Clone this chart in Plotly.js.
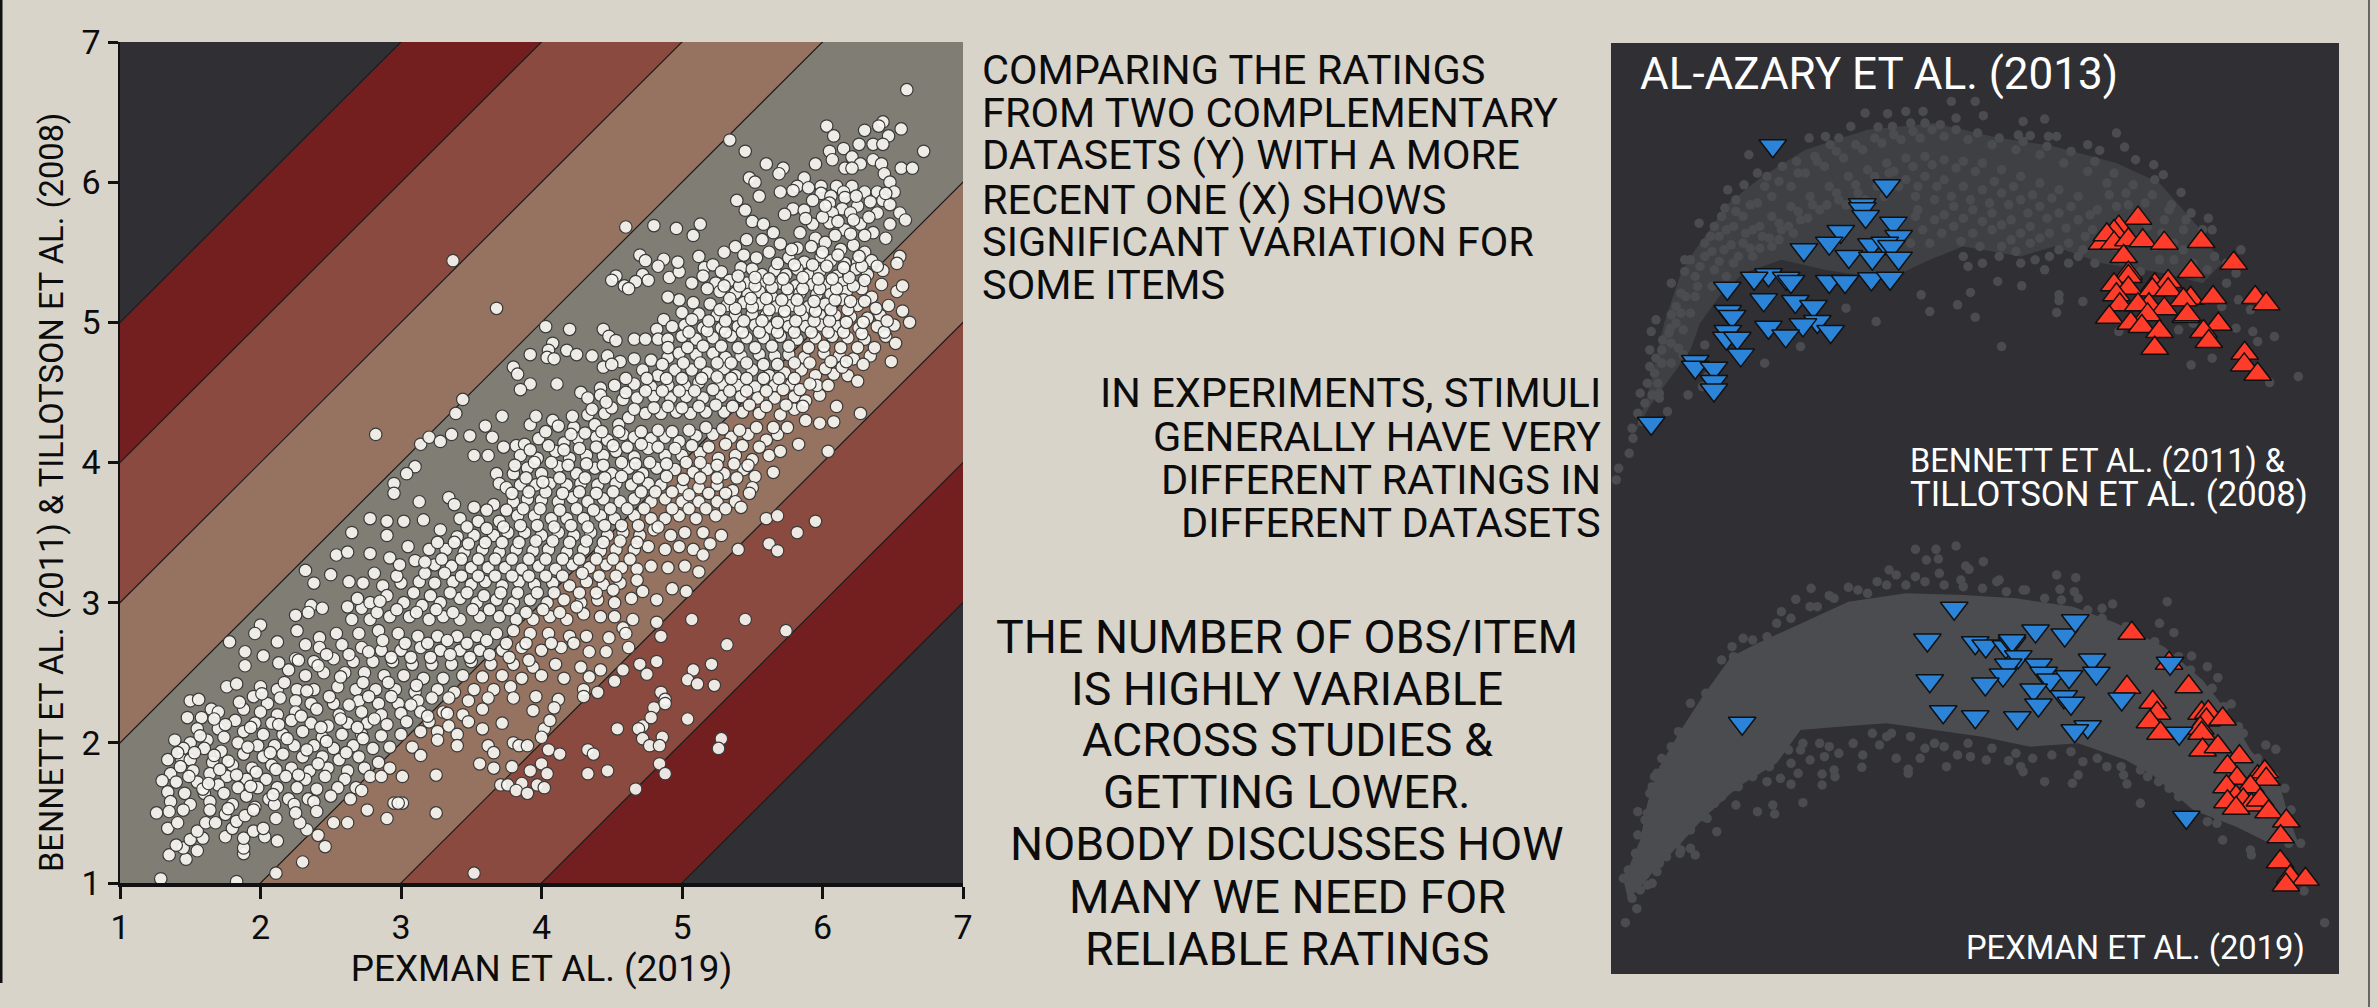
<!DOCTYPE html>
<html>
<head>
<meta charset="utf-8">
<script src="https://cdn.plot.ly/plotly-3.0.1.min.js"></script>
<style>html,body{margin:0;padding:0;background:#D9D4C9;overflow:hidden}</style>
</head>
<body>
<div id="chart" style="width:2378px;height:1007px"></div>
<script>
// x,y pairs: Pexman rating, Bennett/Tillotson rating
const ratingPairs = [
6.60,6.66,5.34,6.30,3.37,5.44,3.68,5.10,4.60,5.68,4.80,5.69,4.96,5.67,5.13,5.70,5.08,5.62,5.45,6.22,5.60,6.13,5.72,6.10,5.69,6.06,5.48,6.03,5.52,6.00,5.55,5.90,5.39,5.87,5.45,5.80,5.50,5.72,5.58,5.70,5.65,5.64,
6.03,6.40,6.08,6.33,6.30,6.37,6.43,6.43,6.40,6.40,6.56,6.38,6.72,6.22,6.47,6.33,6.36,6.27,6.26,6.27,6.43,6.27,6.15,6.24,6.05,6.22,6.07,6.16,6.21,6.18,6.36,6.16,5.95,6.13,6.42,6.13,6.27,6.13,6.16,6.10,6.21,6.10,6.56,6.10,6.64,6.10,6.44,6.06,
6.48,6.00,5.87,6.03,5.82,5.97,5.90,5.96,5.99,5.97,6.10,5.97,6.21,5.97,5.70,5.93,5.79,5.94,5.99,5.92,6.06,5.90,6.15,5.93,6.30,5.93,6.39,5.93,6.51,5.93,5.93,5.87,6.05,5.85,6.16,5.89,6.34,5.86,6.43,5.87,5.79,5.81,5.87,5.80,5.73,5.77,6.14,5.81,6.25,5.83,6.48,5.84,6.39,5.78,6.55,5.78,6.59,5.73,6.48,5.70,6.07,5.78,6.20,5.78,6.05,5.71,5.93,5.70,6.16,5.66,6.27,5.70,6.36,5.64,6.45,5.60,5.84,5.64,5.95,5.60,5.57,5.59,5.46,5.59,5.70,5.56,5.82,5.53,
6.02,5.57,6.13,5.52,6.22,5.55,6.30,5.50,5.38,5.54,5.30,5.50,5.44,5.48,5.53,5.46,5.62,5.50,5.76,5.46,5.87,5.43,5.99,5.47,6.06,5.44,6.16,5.42,6.25,5.43,6.35,5.44,6.55,5.47,6.53,5.42,6.43,5.37,6.32,5.34,6.24,5.38,
5.12,5.47,5.16,5.39,5.22,5.41,5.28,5.36,5.42,5.39,5.50,5.38,5.57,5.34,5.66,5.37,5.74,5.34,5.82,5.38,5.90,5.34,5.98,5.36,6.10,5.33,6.14,5.28,6.04,5.27,5.93,5.27,5.81,5.26,5.70,5.28,5.58,5.27,5.46,5.28,5.34,5.30,5.24,5.28,5.15,5.33,
4.53,5.33,4.72,5.34,4.91,5.32,4.98,5.36,4.97,5.43,4.87,5.45,4.70,5.48,4.74,5.44,4.83,5.40,4.67,5.29,4.76,5.30,4.59,5.26,4.50,5.30,4.62,5.24,5.07,5.28,5.18,5.24,5.27,5.22,5.38,5.21,5.47,5.20,5.55,5.22,5.64,5.18,5.75,5.19,5.84,5.21,5.96,5.20,6.06,5.20,6.17,5.22,6.28,5.24,6.42,5.27,6.53,5.22,6.57,5.26,
6.35,5.18,6.25,5.12,6.15,5.16,6.02,5.13,5.90,5.11,5.78,5.12,5.67,5.11,5.55,5.13,5.44,5.14,5.32,5.12,5.20,5.13,5.08,5.14,4.98,5.16,4.90,5.18,6.47,5.12,6.57,5.08,6.41,5.05,6.32,5.03,6.20,5.04,6.09,5.05,5.98,5.05,5.86,5.04,5.73,5.04,5.60,5.05,5.50,5.06,5.38,5.05,5.25,5.05,5.12,5.06,5.00,5.07,
4.87,5.02,4.82,4.95,4.93,4.97,5.02,4.98,5.15,4.96,5.28,4.96,5.40,4.97,5.52,4.98,5.63,4.96,5.76,4.97,5.88,4.97,5.99,4.98,6.11,4.97,6.26,4.96,6.39,4.97,6.51,4.98,6.62,5.00,
4.03,4.97,4.20,4.95,4.44,4.95,4.48,4.90,4.53,4.87,4.66,4.88,4.74,4.88,4.83,4.88,4.90,4.88,5.00,4.90,5.10,4.88,5.22,4.89,5.35,4.90,5.46,4.89,5.58,4.89,5.70,4.90,5.82,4.88,5.95,4.89,6.07,4.90,6.18,4.89,6.30,4.88,6.45,4.90,6.52,4.85,
4.08,4.85,4.05,4.80,4.18,4.80,4.25,4.77,3.92,4.77,4.04,4.75,4.09,4.74,4.36,4.76,4.47,4.76,4.56,4.72,4.66,4.74,4.78,4.73,4.90,4.75,4.98,4.78,5.10,4.77,5.22,4.78,5.31,4.75,5.42,4.76,5.55,4.77,5.66,4.76,5.76,4.77,5.87,4.75,6.01,4.78,6.12,4.76,6.22,4.74,6.34,4.76,6.49,4.72,
3.80,4.68,3.83,4.63,4.44,4.68,4.50,4.70,4.72,4.66,4.83,4.62,4.95,4.66,5.07,4.66,5.18,4.64,5.30,4.67,5.38,4.62,5.50,4.66,5.62,4.62,5.73,4.64,5.85,4.66,5.95,4.62,6.08,4.63,6.18,4.62,6.25,4.58,5.78,4.56,5.66,4.55,5.52,4.54,5.40,4.55,5.28,4.56,5.12,4.57,5.02,4.55,4.90,4.55,4.78,4.54,4.66,4.56,4.52,4.55,4.42,4.53,
3.92,4.56,4.11,4.56,3.85,4.52,4.28,4.50,4.33,4.46,4.42,4.48,4.58,4.45,4.68,4.46,4.80,4.47,4.92,4.46,5.03,4.47,5.15,4.46,5.28,4.47,5.42,4.47,5.54,4.46,5.66,4.46,5.80,4.47,5.88,4.44,5.98,4.48,6.10,4.40,6.27,4.35,
3.44,4.45,3.39,4.35,3.72,4.33,3.60,4.26,3.92,4.27,3.96,4.33,4.08,4.30,4.12,4.26,4.23,4.25,4.33,4.34,4.38,4.27,4.45,4.35,4.55,4.27,4.62,4.32,4.74,4.35,4.85,4.35,4.96,4.36,5.06,4.35,5.17,4.36,5.30,4.36,5.43,4.36,5.55,4.35,5.70,4.34,5.80,4.38,5.88,4.30,5.98,4.28,6.08,4.29,
3.36,4.20,3.49,4.19,3.65,4.18,3.82,4.12,3.88,4.13,3.98,4.17,4.16,4.14,4.26,4.17,4.39,4.18,4.47,4.16,4.58,4.20,4.66,4.18,4.78,4.17,4.88,4.18,4.98,4.15,5.10,4.19,5.22,4.20,5.35,4.18,5.47,4.20,5.60,4.16,5.68,4.20,5.83,4.13,6.04,4.08,
2.82,4.20,3.14,4.13,3.20,4.18,3.28,4.15,3.52,4.05,3.62,4.05,3.73,4.11,3.85,4.05,3.97,4.03,4.10,4.08,4.20,4.03,4.32,4.05,4.44,4.05,4.53,4.08,4.66,4.04,4.76,4.10,4.88,4.05,5.00,4.05,5.13,4.07,5.26,4.03,5.38,4.05,5.50,4.02,5.62,4.05,5.70,4.08,
3.10,3.97,3.04,3.92,3.68,3.92,3.80,3.92,3.90,3.96,4.00,3.92,4.12,3.97,4.25,3.92,4.38,3.96,4.50,3.92,4.62,3.96,4.72,3.92,4.82,3.96,4.95,3.95,5.08,3.93,5.18,3.95,5.30,3.92,5.44,3.95,5.52,3.90,5.65,3.93,
2.95,3.85,2.95,3.78,3.13,3.72,3.34,3.75,3.38,3.70,3.52,3.68,3.70,3.85,3.75,3.82,3.85,3.84,3.96,3.84,4.06,3.85,4.18,3.84,4.28,3.85,4.40,3.84,4.53,3.85,4.64,3.84,4.76,3.85,4.85,3.84,5.00,3.82,5.12,3.82,5.25,3.84,5.36,3.80,5.50,3.82,5.48,3.78,
3.66,3.70,3.80,3.72,3.90,3.74,4.00,3.73,4.12,3.72,4.22,3.75,4.33,3.72,4.44,3.74,4.56,3.72,4.66,3.74,4.78,3.72,4.88,3.74,5.00,3.72,5.12,3.72,5.25,3.72,5.38,3.72,5.42,3.68,5.60,3.60,5.68,3.62,5.95,3.58,5.24,3.62,5.10,3.60,4.98,3.62,4.88,3.60,4.78,3.60,4.66,3.62,4.52,3.60,4.42,3.62,4.30,3.60,4.18,3.60,4.07,3.60,3.95,3.62,3.83,3.62,3.70,3.58,3.55,3.58,3.42,3.60,
2.78,3.60,2.90,3.58,3.02,3.58,3.16,3.59,3.28,3.52,3.40,3.47,3.52,3.48,3.66,3.48,3.76,3.50,3.88,3.50,4.00,3.48,4.12,3.50,4.23,3.48,4.35,3.50,4.47,3.48,4.58,3.50,4.70,3.48,4.80,3.52,4.92,3.48,5.02,3.50,5.15,3.50,5.28,3.48,5.20,3.42,5.40,3.38,5.62,3.42,5.68,3.37,5.82,3.50,
2.65,3.50,2.90,3.48,3.05,3.40,3.20,3.38,3.32,3.38,3.45,3.36,3.58,3.38,3.70,3.36,3.82,3.38,3.94,3.37,4.05,3.38,4.18,3.36,4.30,3.38,4.42,3.37,4.53,3.38,4.66,3.38,4.76,3.40,4.88,3.38,4.98,3.40,5.08,3.38,5.15,3.34,
2.54,3.34,2.62,3.36,2.78,3.35,2.92,3.32,3.10,3.30,3.24,3.27,3.36,3.26,3.50,3.25,3.62,3.25,3.74,3.25,3.86,3.24,3.98,3.26,4.10,3.24,4.22,3.27,4.34,3.25,4.46,3.27,4.57,3.25,4.68,3.24,4.78,3.26,4.90,3.25,5.02,3.26,5.12,3.22,
2.32,3.23,2.38,3.14,2.50,3.20,2.63,3.15,2.73,3.14,2.87,3.12,3.00,3.14,3.13,3.15,3.24,3.14,3.37,3.15,3.50,3.13,3.60,3.15,3.72,3.12,3.84,3.15,3.95,3.13,4.08,3.14,4.20,3.12,4.32,3.15,4.44,3.13,4.56,3.14,4.68,3.16,4.72,3.08,4.82,3.02,4.93,3.10,5.03,3.08,
2.36,2.98,2.44,2.96,2.62,2.97,2.72,2.96,2.78,3.00,2.90,3.05,3.02,3.00,3.15,2.98,3.28,3.00,3.42,3.03,3.54,3.00,3.68,3.02,3.80,3.00,3.92,3.02,4.04,3.00,4.16,3.02,4.28,3.00,4.40,3.02,4.52,3.00,4.64,3.03,
2.25,2.91,2.34,2.93,2.65,2.88,2.78,2.88,2.92,2.90,3.06,2.90,3.20,2.88,3.30,2.90,3.42,2.88,3.56,2.90,3.70,2.90,3.82,2.88,3.94,2.88,4.06,2.90,4.18,2.88,4.30,2.92,4.42,2.90,4.52,2.90,4.58,2.82,4.65,2.88,4.82,2.86,5.07,2.88,5.45,2.88,
2.00,2.84,1.96,2.78,2.12,2.72,2.26,2.80,2.42,2.75,2.54,2.78,2.70,2.78,2.84,2.80,2.98,2.78,3.12,2.76,3.26,2.76,3.40,2.76,3.54,2.76,3.68,2.78,3.80,2.80,3.92,2.78,4.05,2.78,4.20,2.76,4.32,2.76,4.48,2.75,4.60,2.78,4.85,2.76,5.74,2.80,
1.78,2.72,2.32,2.70,2.42,2.68,2.58,2.70,2.72,2.68,2.86,2.66,3.00,2.66,3.14,2.68,3.28,2.66,3.42,2.66,3.56,2.66,3.72,2.66,3.86,2.68,4.00,2.66,4.14,2.68,4.34,2.65,4.46,2.65,4.62,2.68,5.32,2.70,
1.89,2.65,2.02,2.62,2.25,2.60,2.38,2.58,2.52,2.60,2.66,2.58,2.80,2.58,2.94,2.58,3.08,2.56,3.22,2.56,3.36,2.56,3.50,2.58,3.64,2.56,3.80,2.56,3.94,2.54,4.10,2.56,4.28,2.54,4.42,2.52,4.58,2.52,4.70,2.56,4.82,2.58,5.08,2.52,5.21,2.56,
1.89,2.55,2.20,2.52,2.32,2.48,2.45,2.50,2.60,2.50,2.74,2.50,2.88,2.48,3.02,2.48,3.16,2.46,3.30,2.46,3.44,2.48,3.58,2.47,3.72,2.48,3.86,2.46,4.00,2.48,4.16,2.46,4.34,2.47,4.52,2.44,4.75,2.49,5.04,2.45,
1.76,2.40,1.83,2.42,2.00,2.40,2.12,2.38,2.26,2.38,2.38,2.38,2.55,2.40,2.68,2.38,2.82,2.38,2.96,2.38,3.10,2.36,3.26,2.38,3.38,2.36,3.52,2.38,3.66,2.38,3.78,2.40,4.30,2.38,4.40,2.36,5.11,2.42,5.23,2.41,4.85,2.36,
1.50,2.30,1.56,2.31,1.95,2.33,2.05,2.28,2.14,2.32,2.25,2.30,2.36,2.28,2.52,2.28,2.70,2.30,2.84,2.28,2.98,2.28,3.12,2.30,3.22,2.32,3.34,2.32,3.48,2.30,3.62,2.32,3.80,2.32,3.96,2.33,4.12,2.31,4.30,2.33,4.88,2.31,
1.65,2.24,1.70,2.22,1.88,2.24,2.00,2.22,2.12,2.20,2.25,2.22,2.40,2.24,2.56,2.20,2.72,2.22,2.86,2.20,3.00,2.21,3.14,2.22,3.30,2.22,3.44,2.20,3.58,2.24,3.94,2.23,4.09,2.25,4.80,2.25,4.88,2.28,
1.48,2.18,1.58,2.18,1.82,2.16,1.96,2.14,2.08,2.14,2.22,2.16,2.36,2.14,2.48,2.12,2.62,2.14,2.76,2.14,2.90,2.13,3.04,2.15,3.20,2.15,3.34,2.12,3.48,2.15,3.72,2.14,4.02,2.10,4.06,2.16,4.72,2.12,4.78,2.18,5.04,2.17,
1.55,2.10,1.70,2.10,1.88,2.08,2.02,2.06,2.16,2.06,2.30,2.08,2.44,2.04,2.58,2.06,2.72,2.06,2.86,2.05,3.00,2.06,3.14,2.08,3.26,2.08,3.40,2.06,3.58,2.10,4.54,2.10,4.69,2.10,
1.50,2.00,1.62,2.02,1.74,2.04,1.84,2.00,1.98,1.98,2.10,1.98,2.24,1.98,2.38,1.98,2.52,1.96,2.66,1.98,2.80,1.96,2.92,1.97,3.26,2.02,3.40,1.98,3.62,1.98,3.80,2.00,4.00,2.04,4.72,2.03,4.86,2.04,5.28,2.03,
1.45,1.96,1.60,1.96,1.72,1.94,1.88,1.92,2.02,1.90,2.16,1.92,2.30,1.90,2.44,1.90,2.56,1.88,2.70,1.90,2.84,1.86,3.08,1.97,3.14,1.91,3.66,1.93,3.84,1.98,3.90,1.98,4.05,1.95,4.77,1.98,4.84,1.98,5.26,1.96,
1.34,1.88,1.44,1.88,1.50,1.88,1.66,1.86,1.80,1.84,1.94,1.82,2.08,1.84,2.22,1.82,2.35,1.80,2.48,1.82,2.62,1.80,2.74,1.82,2.92,1.82,3.56,1.85,3.66,1.82,3.79,1.83,4.00,1.85,4.13,1.92,4.33,1.95,4.37,1.92,4.84,1.85,
1.36,1.78,1.52,1.80,1.64,1.78,1.76,1.76,1.90,1.74,2.04,1.74,2.18,1.76,2.32,1.74,2.46,1.76,2.60,1.74,2.78,1.76,2.86,1.76,3.01,1.76,3.25,1.77,3.92,1.80,4.04,1.78,4.33,1.78,4.47,1.80,4.88,1.78,
1.30,1.73,1.40,1.72,1.55,1.72,1.70,1.70,1.84,1.68,1.98,1.68,2.12,1.68,2.26,1.68,2.40,1.67,2.55,1.68,2.68,1.68,3.71,1.70,3.76,1.70,3.86,1.71,3.97,1.70,4.67,1.67,4.02,1.68,
1.34,1.65,1.46,1.64,1.60,1.64,1.74,1.64,1.90,1.62,2.06,1.60,2.20,1.60,2.34,1.60,2.50,1.62,2.72,1.66,3.82,1.66,3.90,1.64,
1.36,1.58,1.50,1.56,1.64,1.58,1.80,1.56,1.96,1.54,2.10,1.56,2.24,1.56,2.38,1.58,2.64,1.60,2.95,1.57,3.01,1.57,
1.29,1.03,1.83,1.01,2.11,1.07,2.30,1.15,3.52,1.07,2.46,1.26,2.41,1.34,2.33,1.38,1.35,1.20,1.47,1.17,1.55,1.23,1.45,1.25,1.40,1.27,1.50,1.31,1.59,1.32,1.55,1.37,1.88,1.21,1.88,1.25,1.75,1.33,1.88,1.32,2.03,1.33,2.12,1.30,1.34,1.39,1.41,1.43,1.61,1.43,1.68,1.43,1.80,1.39,1.95,1.37,2.02,1.39,2.11,1.46,2.28,1.43,1.26,1.50,1.35,1.51,1.45,1.52,1.64,1.52,1.75,1.49,1.83,1.44,1.89,1.48,1.95,1.52,2.25,1.50,2.40,1.51,2.52,1.43,2.62,1.43,2.76,1.52,2.90,1.46,2.98,1.57,3.25,1.50
];
// further items read from the crowded middle of the ridge
const ridgePairs = [
1.43,1.83,1.53,1.93,1.67,1.91,1.77,1.87,1.91,1.97,2.07,1.93,2.19,2.03,2.33,1.95,2.47,2.01,2.61,1.93,2.73,2.03,1.57,2.05,1.75,2.13,1.93,2.11,2.13,2.13,2.29,2.19,2.43,2.11,2.57,2.17,2.69,2.11,2.81,2.17,
1.83,1.77,1.97,1.79,2.11,1.81,2.27,1.77,2.41,1.85,1.71,1.81,1.59,1.67,1.77,1.53,1.93,1.69,2.09,1.63,1.63,1.71,1.49,1.76,1.41,1.93,1.39,2.02,1.67,2.17,1.85,2.29,2.01,2.35,2.17,2.43,2.33,2.37,2.49,2.33,2.63,2.27,2.77,2.33,2.93,2.33,3.07,2.27,3.19,2.19,3.33,2.21,3.11,2.41,2.91,2.43,2.73,2.43,2.57,2.47,2.41,2.55,2.27,2.59,2.13,2.57,
2.47,2.63,2.63,2.63,2.77,2.65,2.93,2.61,3.07,2.61,3.21,2.61,3.35,2.63,3.49,2.61,3.63,2.63,3.77,2.61,3.91,2.59,2.87,2.73,3.03,2.71,3.19,2.71,3.33,2.73,3.47,2.71,3.61,2.73,3.75,2.71,3.89,2.71,4.07,2.71,4.23,2.71,
2.83,2.93,2.97,2.95,3.11,2.93,3.25,2.95,3.37,2.93,3.51,2.95,3.63,2.95,3.77,2.95,3.89,2.93,4.01,2.95,4.13,2.93,4.25,2.97,2.69,3.03,2.85,3.01,3.09,3.07,3.21,3.05,3.35,3.07,3.47,3.07,3.59,3.05,3.71,3.07,3.83,3.07,3.97,3.07,4.09,3.07,4.27,3.07,4.39,3.07,4.51,3.09,
2.81,3.21,2.97,3.19,3.17,3.21,3.31,3.21,3.43,3.19,3.55,3.19,3.67,3.19,3.79,3.19,3.91,3.19,4.03,3.19,4.15,3.19,4.29,3.21,4.41,3.19,4.53,3.19,2.99,3.27,3.17,3.29,3.29,3.31,3.43,3.31,3.55,3.31,3.67,3.31,3.79,3.31,3.91,3.31,4.03,3.31,4.15,3.31,4.27,3.31,4.39,3.31,4.51,3.31,4.63,3.31,
3.26,3.43,3.38,3.43,3.48,3.42,3.60,3.43,3.72,3.43,3.84,3.43,3.96,3.44,4.08,3.44,4.20,3.43,4.32,3.44,4.44,3.43,4.56,3.44,4.68,3.43,3.47,3.54,3.61,3.53,3.73,3.54,3.85,3.55,3.97,3.55,4.09,3.54,4.21,3.55,4.33,3.54,4.45,3.55,4.57,3.55,4.69,3.55,4.83,3.54,
3.61,3.66,3.75,3.66,3.87,3.67,3.99,3.67,4.13,3.66,4.25,3.67,4.37,3.66,4.49,3.67,4.61,3.67,4.73,3.67,4.93,3.67,5.05,3.67,5.17,3.67,5.31,3.67,3.79,3.78,3.91,3.79,4.03,3.79,4.15,3.78,4.27,3.79,4.39,3.78,4.51,3.79,4.71,3.79,4.81,3.79,4.93,3.79,5.05,3.77,5.19,3.78,5.31,3.78,
3.89,3.89,4.01,3.86,4.13,3.89,4.31,3.89,4.45,3.89,4.57,3.90,4.69,3.89,4.89,3.90,5.01,3.88,5.13,3.89,5.25,3.89,5.39,3.89,3.81,3.98,3.95,4.00,4.07,4.00,4.19,3.98,4.32,3.99,4.44,3.98,4.57,4.00,4.67,3.99,4.77,4.00,4.89,3.99,5.03,4.00,5.13,4.00,5.25,3.98,5.37,3.99,5.47,3.98,
3.92,4.09,4.05,4.12,4.16,4.09,4.27,4.10,4.39,4.11,4.51,4.12,4.61,4.11,4.71,4.13,4.83,4.11,4.95,4.10,5.07,4.12,5.19,4.11,5.31,4.13,5.43,4.12,5.55,4.11,4.03,4.22,4.21,4.20,4.31,4.21,4.43,4.22,4.55,4.22,4.71,4.22,4.83,4.23,4.93,4.22,5.05,4.23,5.17,4.25,5.29,4.24,5.41,4.23,5.53,4.25,5.65,4.25,5.75,4.25,
4.22,4.33,4.36,4.38,4.50,4.39,4.66,4.38,4.80,4.39,4.90,4.40,5.00,4.39,5.12,4.40,5.24,4.41,5.36,4.40,5.48,4.41,5.60,4.40,5.74,4.41,5.86,4.40,4.46,4.43,4.60,4.50,4.74,4.51,4.86,4.51,4.98,4.51,5.09,4.51,5.22,4.52,5.34,4.51,5.46,4.51,5.60,4.51,5.72,4.52,5.84,4.52,5.96,4.55,6.04,4.55,
4.60,4.60,4.75,4.60,4.89,4.60,5.00,4.60,5.14,4.60,5.25,4.61,5.35,4.60,5.46,4.60,5.58,4.60,5.69,4.60,5.80,4.60,5.91,4.56,6.02,4.67,6.14,4.68,4.86,4.70,5.01,4.71,5.13,4.71,5.25,4.71,5.35,4.71,5.46,4.71,5.58,4.70,5.68,4.70,5.80,4.71,5.91,4.71,6.06,4.72,6.17,4.72,6.29,4.70,
4.90,4.82,5.04,4.82,5.15,4.83,5.28,4.83,5.40,4.82,5.52,4.82,5.64,4.83,5.76,4.83,5.90,4.82,6.01,4.83,6.13,4.82,6.25,4.82,6.37,4.82,5.05,4.93,5.18,4.94,5.31,4.93,5.43,4.93,5.55,4.93,5.68,4.93,5.80,4.93,5.92,4.93,6.04,4.93,6.15,4.93,6.28,4.92,6.44,4.93,
5.07,5.02,5.19,5.01,5.31,5.01,5.44,5.01,5.57,5.01,5.68,5.00,5.81,5.01,5.94,5.01,6.05,5.01,6.17,5.00,6.29,5.00,6.46,5.01,5.27,5.09,5.38,5.10,5.50,5.11,5.62,5.09,5.73,5.08,5.84,5.09,5.95,5.08,6.06,5.09,6.18,5.09,6.38,5.10,5.34,5.17,5.49,5.17,5.60,5.17,5.71,5.16,5.82,5.16,5.94,5.15,6.09,5.16,6.20,5.15,6.30,5.15,
5.30,5.26,5.41,5.26,5.52,5.26,5.64,5.25,5.75,5.24,5.86,5.24,5.98,5.24,6.10,5.24,6.22,5.26,5.40,5.33,5.52,5.32,5.62,5.31,5.72,5.31,5.86,5.32,5.97,5.31,6.07,5.31,6.19,5.32,6.30,5.30,5.68,5.42,5.80,5.41,5.93,5.41,6.03,5.40,6.15,5.39,6.28,5.40,6.39,5.40,6.00,5.50,6.11,5.48,6.26,5.47,5.92,5.54,5.78,5.52,6.09,5.62,6.20,5.63,6.30,5.62,5.88,5.74,6.00,5.75,6.11,5.72,6.22,5.73,6.33,5.75,6.02,5.83,6.24,5.90,6.45,5.92
];

// Gray item clouds in the two embedding panels: outlines and edge dots, as x,y in panel units
const topCloudOutlineX = [70,100,135,170,200,270,340,430,560,700,820,950,1080,1170,1250,1300,1260,1180,1050,950,880,760,690,630,560,470,380,300,250,210,190,140,105];
const topCloudOutlineY = [1220,1100,880,730,660,520,440,360,300,280,320,350,400,460,590,700,760,730,700,650,680,650,690,730,740,720,690,730,800,880,960,1060,1130];
const topCloudDots = [
35,1350,40,1315,62,1270,68,1195,70,1225,80,1150,95,1120,110,1095,125,1105,142,1145,122,1060,105,1010,118,985,105,960,108,905,118,870,132,930,148,895,150,855,160,830,150,760,170,790,178,725,190,690,178,690,208,580,220,640,232,620,240,590,255,560,262,535,268,480,302,465,330,430,285,510,312,375,350,440,382,410,412,395,438,325,472,320,500,325,482,345,450,380,525,290,555,250,582,292,602,252,612,290,640,245,676,245,650,280,680,280,735,215,785,215,745,265,802,258,712,285,885,275,930,268,1080,310,1097,352,955,320,938,320,900,318,875,316,1020,345,1045,362,1120,390,1158,405,1178,435,1215,488,1160,450,1236,550,1272,565,1260,600,1190,540,1220,600,
1285,680,1340,660,1330,730,1310,760,1335,810,1300,830,1410,920,1360,840,1375,935,1280,985,1236,1005,1460,1040,1400,1058,1365,905,1330,895,1240,880,1210,900,1085,905,840,950,785,862,690,845,748,825,775,788,672,795,882,768,832,755,960,795,960,812,1010,815,955,848,578,875,515,835,420,950,345,1000,220,945,185,1095,215,1070,225,1040,
300,560,330,520,360,500,400,470,430,430,470,410,510,385,550,360,590,340,630,330,670,325,720,320,770,330,820,345,870,360,920,375,970,400,1020,425,1060,460,1100,490,1140,520,1180,570,250,620,280,590,320,600,360,560,400,530,440,500,480,470,520,440,560,420,600,400,640,385,680,380,720,390,760,395,800,400,840,420,880,440,920,460,960,480,1000,500,1040,540,1080,530,1120,560,220,680,260,660,300,640,340,620,380,600,420,570,460,540,500,510,540,490,580,470,640,450,680,440,720,450,760,470,800,480,840,490,880,510,920,530,960,550,1000,570,1030,600,200,740,240,720,280,700,320,680,360,650,180,800,160,880,200,800,150,940,175,900,130,1000,660,500,700,510,740,530,780,540,820,550,860,570,900,590,940,610,980,640,1010,660,660,560,700,570,740,590,780,610,820,600,860,630,900,640,940,680,980,700,760,680,800,700,840,650,880,700,930,720,650,640,690,640,630,690,1130,620,1220,660,1270,720,1310,700,1250,735,1280,600,1200,690,1035,700,1130,725,1075,650,
285,545,315,525,345,470,375,455,415,430,455,395,495,365,535,345,575,325,615,315,655,305,695,300,745,300,790,310,835,325,885,335,935,350,985,365,1035,395,1075,430,1115,465,1155,495,1195,525,1225,570,265,600,305,610,335,590,375,580,415,545,445,525,495,490,535,465,575,440,615,425,655,410,695,405,745,415,785,425,825,455,865,470,905,495,945,505,985,530,1025,555,1065,495,1105,525,1145,590,1175,610,235,665,275,645,315,655,355,625,395,590,435,565,475,525,515,525,555,510,595,500,625,470,665,470,705,470,735,500,775,510,815,520,855,525,895,550,935,565,975,595,1015,620,1050,640,1100,640,1160,650,1200,640,210,710,250,695,290,680,335,655,375,630,405,610,235,770,265,740,205,770,170,850,190,850,145,910,165,955,130,960,115,1030,100,1060,85,1090,150,1000,175,975,125,1090,90,1175,605,430,665,540,720,555,760,565,800,575,840,585,880,610,920,625,960,660,1000,680,675,600,715,610,755,635,795,650,835,680,870,665,910,690,770,710,1090,690,1170,690,1240,700
];
const bottomCloudOutlineX = [60,50,85,100,125,170,215,275,330,420,520,640,760,870,990,1080,1180,1260,1320,1360,1420,1440,1460,1400,1330,1240,1160,1100,1000,900,800,700,600,500,420,370,290,220,170,110];
const bottomCloudOutlineY = [1170,1110,990,880,770,660,560,440,400,340,275,250,255,265,290,340,410,510,620,720,820,920,1000,1000,950,900,800,750,700,710,680,660,640,650,660,760,830,920,1000,1090];
const bottomCloudDots = [
54,1238,78,1196,1515,1238,68,1165,80,905,100,910,245,965,200,1035,190,1015,168,1030,225,925,285,885,330,905,362,885,366,912,425,878,400,823,350,815,378,805,465,825,465,792,492,800,490,780,415,790,548,772,645,790,645,778,725,770,748,735,775,740,808,750,855,752,880,770,885,785,930,815,988,820,1000,795,1010,755,1102,822,1130,880,1168,815,1145,800,1095,795,1302,990,1360,1020,1362,1035,1465,1000,1472,1143,1440,1000,1290,940,1270,935,
660,118,703,118,745,108,683,150,708,147,765,168,772,178,802,155,835,210,755,210,605,180,620,195,442,235,480,257,410,268,380,305,300,385,277,410,255,450,222,550,190,580,165,665,955,195,995,203,962,238,992,245,1000,265,1072,282,1050,295,1186,275,1170,340,1200,368,1237,438,1270,470,1292,503,1320,582,1335,650,1392,705,1413,718,1432,835,520,232,580,215,660,200,710,190,830,215,885,240,440,290,350,380,320,390,280,440,
1100,720,1150,750,1220,800,1260,850,1300,890,1350,920,1380,960,420,720,460,700,500,730,550,735,585,705,620,745,670,745,700,700,600,680,470,740,440,750,400,760,350,760,290,830,240,880,215,920,160,1000,125,1060,110,1120,75,1110,90,1060,105,950,110,830,120,790,150,710,
370,340,400,325,455,290,490,265,540,240,560,250,600,225,640,225,680,215,720,225,760,230,800,235,850,245,890,240,930,265,965,270,1020,300,1050,325,1100,350,1130,385,1160,395,1210,440,1235,480,1280,535,1305,590,1345,670,1375,745,1410,800,1445,900,130,745,115,800,105,850,95,930,80,975,75,1030,60,1080,50,1105,65,1140,
280,830,320,800,355,770,395,720,425,700,480,710,530,700,570,670,610,670,650,680,680,715,720,710,770,700,820,715,870,730,905,745,945,735,985,725,1040,745,1060,770,1090,770,1130,780,1190,835,1210,860,1250,870,1290,915,1325,925,1355,950,1395,965,1420,985,190,960,230,890,255,860,300,795,170,1020,140,1040,120,1085,95,1095,100,1125,85,1140
];

// Triangles: lower- and higher-rated test items in each panel
const topBlueX = [362,600,549,549,556,614,504,625,480,568,596,610,427,521,570,625,353,323,390,400,480,513,568,607,267,343,409,447,268,277,455,353,425,483,389,268,265,288,295,200,200,239,239,239,108];
const topBlueY = [348,468,525,537,560,580,605,620,640,645,640,650,660,680,685,685,735,745,745,755,755,755,747,745,775,810,815,830,845,860,875,892,885,905,918,905,925,925,975,995,1012,1015,1055,1080,1180];
const topRedX = [1125,1085,1075,1050,1060,1075,1105,1135,1180,1257,1095,1325,1236,1105,1105,1075,1160,1188,1105,1155,1188,1080,1235,1282,1148,1087,1125,1220,1370,1393,1180,1065,1225,1228,1145,1110,1133,1293,1170,1262,1273,1160,1348,1347,1375];
const topRedY = [565,592,605,640,615,640,630,633,640,635,680,700,725,730,740,765,765,755,775,780,780,795,805,803,825,825,825,810,803,822,837,862,860,855,855,880,890,883,905,905,935,955,970,1005,1033];
const bottomBlueX = [741,685,785,807,849,862,862,875,911,972,994,1029,917,854,843,1038,690,806,928,942,981,907,970,985,917,718,785,873,1020,993,1091,1192,1211,298,1226];
const bottomBlueY = [295,390,398,408,410,400,392,440,363,375,332,450,465,465,495,490,512,522,490,510,500,540,560,580,585,605,620,623,650,662,567,460,670,640,922];
const bottomRedX = [1112,1190,1102,1231,1156,1165,1150,1172,1258,1272,1268,1302,1255,1258,1260,1292,1337,1312,1332,1375,1390,1393,1360,1310,1330,1345,1362,1312,1380,1330,1398,1435,1423,1422,1443,1475,1434];
const bottomRedY = [370,460,532,530,577,610,635,670,610,607,630,627,655,670,720,710,740,770,805,800,785,808,830,830,860,870,885,875,870,895,905,933,980,1055,1100,1108,1125];

const ticks = [1,2,3,4,5,6,7];
const bandEdges = [-4,-3,-2,-1,1,2,3,4];
const bandColors = ['#731F20','#8A4A40','#967360','#7F7D74','#967360','#8A4A40','#731F20'];

const W = 2378, H = 1007;
const FONT = 'Roboto,"Lato",sans-serif';
const pairsX = a => a.filter((_,i)=>i%2===0);
const pairsY = a => a.filter((_,i)=>i%2===1);
const px = v => v/W, py = v => 1 - v/H;
const allPairs = ratingPairs.concat(ridgePairs);

const shapes = [];
bandEdges.slice(0,-1).forEach((lo,i)=>{
  const hi = bandEdges[i+1];
  shapes.push({type:'path',xref:'x',yref:'y',layer:'below',line:{width:0},fillcolor:bandColors[i],
    path:`M-5,${-5+lo}L15,${15+lo}L15,${15+hi}L-5,${-5+hi}Z`});
});
bandEdges.forEach(e=>shapes.push({type:'line',xref:'x',yref:'y',layer:'below',x0:-5,y0:-5+e,x1:15,y1:15+e,line:{color:'#1c1c1c',width:1.2}}));
shapes.push({type:'line',xref:'paper',yref:'paper',x0:px(1),x1:px(1),y0:py(983),y1:1,line:{color:'#111',width:3}});
shapes.push({type:'line',xref:'paper',yref:'paper',x0:px(2369),x1:px(2369),y0:0,y1:1,line:{color:'#666',width:2}});
shapes.push({type:'rect',xref:'paper',yref:'paper',x0:px(1611),x1:px(2339),y0:py(974),y1:py(43),layer:'below',fillcolor:'#302F34',line:{width:0}});

const txt = (text,x,y,size,color,anchor) => ({text,x:px(x),y:py(y),xref:'paper',yref:'paper',showarrow:false,
  xanchor:anchor,yanchor:'bottom',align:anchor,font:{family:FONT,size,color}});
const annBlock = (lines,x,bases,size,anchor,color) => lines.map((l,i)=>txt(l,x,bases[i]+size*0.27,size,color||'#0c0c0c',anchor));

const annotations = [].concat(
  annBlock(['COMPARING THE RATINGS','FROM TWO COMPLEMENTARY','DATASETS (Y) WITH A MORE','RECENT ONE (X) SHOWS','SIGNIFICANT VARIATION FOR','SOME ITEMS'],980,[85,128,170,215,257,300],41.5,'left'),
  annBlock(['IN EXPERIMENTS, STIMULI','GENERALLY HAVE VERY','DIFFERENT RATINGS IN','DIFFERENT DATASETS'],1603,[408,452,495,538],41.5,'right'),
  annBlock(['THE NUMBER OF OBS/ITEM','IS HIGHLY VARIABLE','ACROSS STUDIES &','GETTING LOWER.','NOBODY DISCUSSES HOW','MANY WE NEED FOR','RELIABLE RATINGS'],1287,[653,705,756,808,860,913,965],46.5,'center'),
  annBlock(['AL-AZARY ET AL. (2013)'],1638,[90],44,'left','#ffffff'),
  annBlock(['BENNETT ET AL. (2011) &'],1908,[473],32.5,'left','#ffffff'),
  annBlock(['TILLOTSON ET AL. (2008)'],1908,[508],34.7,'left','#ffffff'),
  annBlock(['PEXMAN ET AL. (2019)'],2307,[960],32.7,'right','#ffffff'),
  [{text:'BENNETT ET AL. (2011) & TILLOTSON ET AL. (2008)',x:px(52),y:py(493),xref:'paper',yref:'paper',showarrow:false,textangle:-90,
    xanchor:'center',yanchor:'middle',font:{family:FONT,size:32.7,color:'#0c0c0c'}}]
);

const dot = {color:'#4A4C50',size:9.5,line:{width:0}};
const tri = (sym,color)=>({symbol:sym,color,size:24,line:{color:'#111',width:1.5}});

const traces = [
  {x:pairsX(allPairs),y:pairsY(allPairs),xaxis:'x',yaxis:'y',mode:'markers',type:'scatter',hoverinfo:'skip',
   marker:{size:12.5,color:'rgba(246,245,241,0.92)',line:{color:'#3a3a3a',width:1.2}}},
  {x:topCloudOutlineX,y:topCloudOutlineY,xaxis:'x2',yaxis:'y2',mode:'lines',fill:'toself',fillcolor:'#3F4044',line:{width:0},hoverinfo:'skip'},
  {x:pairsX(topCloudDots),y:pairsY(topCloudDots),xaxis:'x2',yaxis:'y2',mode:'markers',marker:dot,hoverinfo:'skip'},
  {x:topRedX,y:topRedY,xaxis:'x2',yaxis:'y2',mode:'markers',marker:tri('triangle-up','#FF3B2A'),hoverinfo:'skip'},
  {x:topBlueX,y:topBlueY,xaxis:'x2',yaxis:'y2',mode:'markers',marker:tri('triangle-down','#2B84D8'),hoverinfo:'skip'},
  {x:bottomCloudOutlineX,y:bottomCloudOutlineY,xaxis:'x3',yaxis:'y3',mode:'lines',fill:'toself',fillcolor:'#4A4C50',line:{width:0},hoverinfo:'skip'},
  {x:pairsX(bottomCloudDots),y:pairsY(bottomCloudDots),xaxis:'x3',yaxis:'y3',mode:'markers',marker:dot,hoverinfo:'skip'},
  {x:bottomRedX,y:bottomRedY,xaxis:'x3',yaxis:'y3',mode:'markers',marker:tri('triangle-up','#FF3B2A'),hoverinfo:'skip'},
  {x:bottomBlueX,y:bottomBlueY,xaxis:'x3',yaxis:'y3',mode:'markers',marker:tri('triangle-down','#2B84D8'),hoverinfo:'skip'}
];

const hidden = {visible:false,fixedrange:true};
const tickFont = {family:FONT,size:34,color:'#0c0c0c'};
const layout = {
  width:W,height:H,margin:{l:0,r:0,t:0,b:0},autosize:false,showlegend:false,
  paper_bgcolor:'#D9D4C9',plot_bgcolor:'#302F34',
  xaxis:{domain:[px(120),px(963)],range:[1,7],tickvals:ticks,ticktext:ticks.map(String),ticks:'outside',ticklen:12,tickwidth:3,tickcolor:'#111',
    showgrid:false,zeroline:false,showline:true,linecolor:'#111',linewidth:3.5,tickfont:tickFont,
    title:{text:'PEXMAN ET AL. (2019)',standoff:8,font:{family:FONT,size:36.8,color:'#0c0c0c'}}},
  yaxis:{domain:[py(883),py(42)],range:[1,7],tickvals:ticks,ticktext:ticks.map(String),ticks:'outside',ticklen:10,tickwidth:3,tickcolor:'#111',
    showgrid:false,zeroline:false,showline:true,linecolor:'#111',linewidth:2.5,tickfont:tickFont},
  xaxis2:Object.assign({domain:[px(1611),px(2339)],range:[24,1545],anchor:'y2'},hidden),
  yaxis2:Object.assign({domain:[py(508),py(43)],range:[1434,40],anchor:'x2'},hidden),
  xaxis3:Object.assign({domain:[px(1611),px(2339)],range:[24,1545],anchor:'y3'},hidden),
  yaxis3:Object.assign({domain:[py(974),py(508)],range:[1392,-6],anchor:'x3'},hidden),
  shapes,annotations
};
Plotly.newPlot('chart',traces,layout,{staticPlot:true,displayModeBar:false});
</script>
</body>
</html>
